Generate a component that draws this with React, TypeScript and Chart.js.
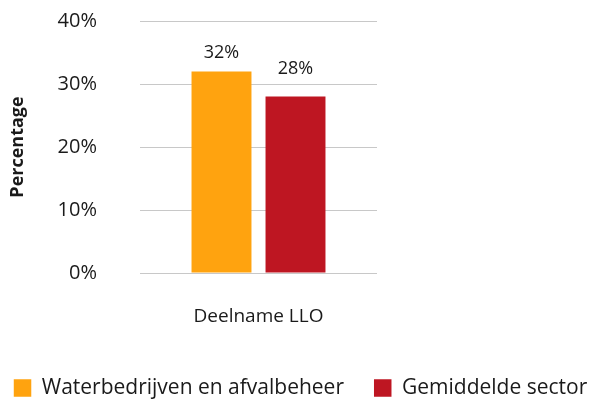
import React, { useEffect, useRef } from "react";
import { Chart, registerables } from "chart.js";

Chart.register(...registerables);

const categories = ["Deelname LLO"];
const seriesNames = ["Waterbedrijven en afvalbeheer", "Gemiddelde sector"];
const waterValues = [32];
const sectorValues = [28];
const yTicks = [0, 10, 20, 30, 40];

const FONT = "'Open Sans', sans-serif";
const TEXT = "#1a1a1a";

const dataLabelPlugin = {
  id: "dataLabels",
  afterDatasetsDraw(chart: any) {
    const ctx = chart.ctx;
    ctx.save();
    ctx.font = `18px ${FONT}`;
    ctx.fillStyle = TEXT;
    ctx.textAlign = "center";
    ctx.textBaseline = "alphabetic";
    chart.data.datasets.forEach((ds: any, i: number) => {
      const meta = chart.getDatasetMeta(i);
      meta.data.forEach((el: any, j: number) => {
        const v = ds.data[j];
        ctx.fillText(`${v}%`, el.x, el.y - (ds.labelOffset ?? 13));
      });
    });
    ctx.restore();
  },
};

export default function App() {
  const ref = useRef<HTMLCanvasElement>(null);
  useEffect(() => {
    if (!ref.current) return;
    const chart = new Chart(ref.current, {
      type: "bar",
      data: {
        labels: categories,
        datasets: [
          {
            label: seriesNames[0],
            data: waterValues,
            backgroundColor: "#FFA30F",
            categoryPercentage: 0.6245,
            barPercentage: 0.81,
            labelOffset: 13,
          } as any,
          {
            label: seriesNames[1],
            data: sectorValues,
            backgroundColor: "#BE1622",
            categoryPercentage: 0.6245,
            barPercentage: 0.81,
            labelOffset: 23,
          } as any,
        ],
      },
      options: {
        animation: false,
        responsive: false,
        maintainAspectRatio: false,
        layout: { padding: { top: 21, bottom: -7.5, left: -26, right: -34 } },
        plugins: {
          legend: {
            position: "bottom",
            labels: {
              boxWidth: 17.5,
              boxHeight: 17.5,
              padding: 30,
              color: TEXT,
              font: { family: FONT, size: 21 },
            },
          },
          tooltip: { enabled: false },
        },
        scales: {
          x: {
            grid: { display: false, drawTicks: false },
            border: { display: false },
            ticks: { color: TEXT, font: { family: FONT, size: 19 }, padding: 32 },
            afterFit: (s: any) => {
              s.height = 74.5;
            },
          },
          y: {
            min: 0,
            max: 40,
            afterBuildTicks: (s: any) => {
              s.ticks = yTicks.map((v) => ({ value: v }));
            },
            ticks: {
              color: TEXT,
              font: { family: FONT, size: 20 },
              padding: 0,
              callback: (v: any) => `${v}%`,
            },
            grid: {
              color: "#C8C8C8",
              drawTicks: true,
              tickLength: 43,
              tickColor: "rgba(0,0,0,0)",
              lineWidth: 1,
            },
            border: { display: false },
            title: {
              display: true,
              text: "Percentage",
              color: TEXT,
              font: { family: FONT, size: 18, weight: "bold" },
              padding: { top: 32.7, bottom: 0 },
            },
            afterFit: (s: any) => {
              s.width = 166;
            },
          },
          yRight: {
            position: "right",
            display: true,
            grid: { display: false },
            border: { display: false },
            ticks: { display: false },
            afterFit: (s: any) => {
              s.width = 250;
            },
          },
        },
      } as any,
      plugins: [dataLabelPlugin],
    });
    return () => chart.destroy();
  }, []);
  return (
    <div style={{ position: "absolute", left: 0, top: 0, width: 593, height: 401, background: "#fff" }}>
      <canvas ref={ref} width={593} height={401} style={{ display: "block" }} />
    </div>
  );
}
